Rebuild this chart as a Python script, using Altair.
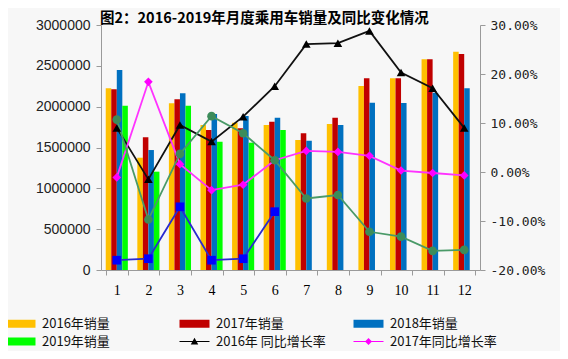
import altair as alt
import pandas as pd

months = [str(i) for i in range(1, 13)]

sales_2016 = [2225000, 1375000, 2041000, 1776000, 1804000, 1776000, 1592000, 1788000, 2253000, 2347000, 2580000, 2673000]
sales_2017 = [2213000, 1625000, 2090000, 1714000, 1735000, 1816000, 1674000, 1865000, 2347000, 2347000, 2580000, 2645000]
sales_2018 = [2449000, 1469000, 2164000, 1910000, 1886000, 1865000, 1583000, 1776000, 2049000, 2045000, 2170000, 2225000]
sales_2019 = [2012000, 1204000, 2012000, 1571000, 1559000, 1714000]

growth_2016 = [9.0, -1.5, 9.6, 6.2, 11.3, 17.5, 26.1, 26.3, 28.8, 20.3, 17.1, 9.0]
growth_2017 = [-1.1, 18.4, 1.6, -3.7, -2.6, 2.4, 4.3, 4.1, 3.3, 0.3, -0.2, -0.7]
growth_2018 = [10.7, -9.7, 3.7, 11.4, 7.9, 2.4, -5.4, -4.7, -12.2, -13.2, -16.1, -15.9]
growth_2019 = [-18.0, -17.7, -7.1, -18.0, -17.7, -8.1]

bar_series = ["2016", "2017", "2018", "2019"]
bar_values = [sales_2016, sales_2017, sales_2018, sales_2019]
bar_colors = ["#ffc000", "#c00000", "#0070c0", "#00ff00"]

line_series = ["g2016", "g2017", "g2018", "g2019"]
line_values = [growth_2016, growth_2017, growth_2018, growth_2019]
line_colors = ["#111111", "#ff33ff", "#4a9a68", "#2a2ad0"]
marker_colors = ["#000000", "#ff00ff", "#3c8c5a", "#0000ff"]
marker_shapes = ["triangle-up", "diamond", "circle", "square"]

legend_labels = ["2016年销量", "2017年销量", "2018年销量", "2019年销量", "2016年 同比增长率", "2017年同比增长率"]
legend_colors = ["#ffc000", "#c00000", "#0070c0", "#00ff00", "#000000", "#ff00ff"]
rect_path = "M-3,-0.8H3V0.8H-3Z"
tri_path = "M-3,-0.12H3V0.12H-3Z M-0.75,0.6L0,-0.75L0.75,0.6Z"
dia_path = "M-3,-0.12H3V0.12H-3Z M0,-0.7L0.7,0L0,0.7L-0.7,0Z"
legend_shapes = [rect_path, rect_path, rect_path, rect_path, tri_path, dia_path]

bar_rows = []
for s, vals, c in zip(bar_series, bar_values, bar_colors):
    for m, v in zip(months, vals):
        bar_rows.append({"month": m, "series": s, "sales": v, "color": c})
bars_df = pd.DataFrame(bar_rows)

line_rows = []
for s, vals, lc, mc, sh in zip(line_series, line_values, line_colors, marker_colors, marker_shapes):
    for m, v in zip(months, vals):
        line_rows.append({"month": m, "series": s, "pct": v, "lcolor": lc, "mcolor": mc, "shape": sh})
lines_df = pd.DataFrame(line_rows)

legend_df = pd.DataFrame({"label": legend_labels})

axis_gray = "#9a9a9a"

x_enc = alt.X(
    "month:N",
    sort=months,
    scale=alt.Scale(paddingInner=0.3, paddingOuter=0.15),
    axis=alt.Axis(
        title=None, labelAngle=0, tickBand="extent", domainColor=axis_gray,
        tickColor=axis_gray, tickSize=5, labelFont="Liberation Serif",
        labelFontSize=14, labelColor="#000000", labelPadding=8,
    ),
)

bars = alt.Chart(bars_df).mark_bar().encode(
    x=x_enc,
    xOffset=alt.XOffset("series:N", sort=bar_series,
                        scale=alt.Scale(domain=bar_series, paddingInner=0, paddingOuter=0)),
    y=alt.Y(
        "sales:Q",
        scale=alt.Scale(domain=[0, 3000000], nice=False),
        axis=alt.Axis(
            title=None, values=[0, 500000, 1000000, 1500000, 2000000, 2500000, 3000000],
            format="d", grid=False, domainColor=axis_gray, tickColor=axis_gray, tickSize=5,
            labelFont="Liberation Sans", labelFontSize=14, labelColor="#222222", labelPadding=6,
        ),
    ),
    color=alt.Color("color:N", scale=None),
)

y_pct = alt.Y(
    "pct:Q",
    scale=alt.Scale(domain=[-20, 30], nice=False),
    axis=alt.Axis(
        title=None, orient="right", values=list(range(-20, 31, 5)), grid=False,
        labelExpr="(datum.value < 0 ? '-' : '') + format(abs(datum.value), '.2f') + '%'",
        domainColor=axis_gray, tickColor=axis_gray, tickSize=5,
        labelFont="DejaVu Sans Mono", labelFontSize=13, labelColor="#222222", labelPadding=5,
    ),
)

lines = alt.Chart(lines_df).mark_line(strokeWidth=1.8).encode(
    x=alt.X("month:N", sort=months),
    y=y_pct,
    color=alt.Color("lcolor:N", scale=None),
    detail="series:N",
)

points = alt.Chart(lines_df).mark_point(filled=True, size=75, opacity=1).encode(
    x=alt.X("month:N", sort=months),
    y=alt.Y("pct:Q"),
    color=alt.Color("mcolor:N", scale=None),
    shape=alt.Shape("shape:N", scale=None),
)

legend_cfg = dict(
    title=None, orient="none", direction="horizontal", legendX=-87, legendY=292, columns=3,
    gridAlign="all", columnPadding=27, rowPadding=4, symbolSize=100,
    symbolOpacity=1, labelFont="Noto Sans CJK SC", labelFontSize=13,
    labelColor="#111111", labelOffset=15, symbolStrokeWidth=0,
)

legend_layer = alt.Chart(legend_df).mark_point(filled=True, opacity=0).encode(
    color=alt.Color("label:N", sort=legend_labels,
                    scale=alt.Scale(domain=legend_labels, range=legend_colors),
                    legend=alt.Legend(**legend_cfg)),
    shape=alt.Shape("label:N", sort=legend_labels,
                    scale=alt.Scale(domain=legend_labels, range=legend_shapes),
                    legend=alt.Legend(**legend_cfg)),
)

right = alt.layer(lines, points, legend_layer)

chart = alt.layer(bars, right).resolve_scale(y="independent").properties(
    width=379,
    height=245,
    padding={"left": 93, "top": 17, "right": 80, "bottom": 81},
    autosize=alt.AutoSizeParams(type="none"),
    background="#f7f7f7",
    title=alt.Title(
        "图2：2016-2019年月度乘用车销量及同比变化情况",
        font="Noto Sans CJK SC", fontSize=14.5, fontWeight="bold", color="#000000",
        anchor="start", frame="group", dx=-1, dy=12, offset=4,
    ),
).configure_view(stroke=None)

chart.save("out.html", embed_options={"renderer": "svg", "actions": False})
